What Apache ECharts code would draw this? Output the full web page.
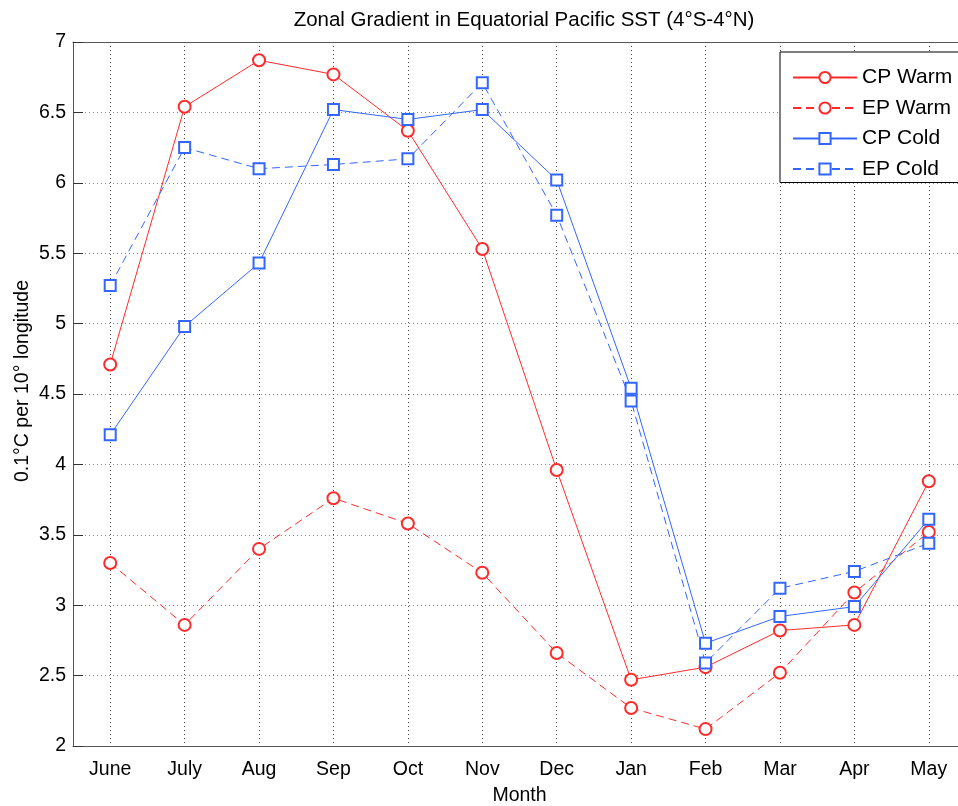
<!DOCTYPE html>
<html>
<head>
<meta charset="utf-8">
<script src="https://cdn.jsdelivr.net/npm/echarts@6/dist/echarts.min.js"></script>
<style>
  html, body { margin: 0; padding: 0; background: #fff; }
  #chart { width: 958px; height: 806px; }
</style>
</head>
<body>
<div id="chart"></div>
<script>
// 月份
const months = ['June', 'July', 'Aug', 'Sep', 'Oct', 'Nov', 'Dec', 'Jan', 'Feb', 'Mar', 'Apr', 'May']

// 各序列数值 (0.1°C per 10° longitude)
const cpWarm = [4.71, 6.54, 6.87, 6.77, 6.37, 5.53, 3.96, 2.47, 2.56, 2.82, 2.86, 3.88]
const epWarm = [3.30, 2.86, 3.40, 3.76, 3.58, 3.23, 2.66, 2.27, 2.12, 2.52, 3.09, 3.52]
const cpCold = [4.21, 4.98, 5.43, 6.52, 6.45, 6.52, 6.02, 4.54, 2.73, 2.92, 2.99, 3.61]
const epCold = [5.27, 6.25, 6.10, 6.13, 6.17, 6.71, 5.77, 4.45, 2.59, 3.12, 3.24, 3.44]

const RED = '#ff2b2b'
const BLUE = '#3366ff'
const FONT = 'Liberation Sans, Arial, Helvetica, sans-serif'

function makeSeries(name, data, color, dashed, symbol, size) {
  return {
    name,
    type: 'line',
    data,
    symbol,
    symbolSize: size,
    showAllSymbol: true,
    animation: false,
    lineStyle: { color, width: 1, type: dashed ? [8, 5] : 'solid' },
    itemStyle: { color, borderColor: color, borderWidth: 0.9 }
  }
}

const myChart = echarts.init(document.getElementById('chart'))
myChart.setOption({
  animation: false,
  textStyle: { fontFamily: FONT },
  title: {
    text: 'Zonal Gradient in Equatorial Pacific SST (4°S-4°N)',
    left: 519, top: 5, textAlign: 'center',
    textStyle: { fontSize: 20.5, fontWeight: 'normal', color: '#000', fontFamily: FONT }
  },
  grid: { left: 73, top: 42, right: -8, bottom: 60, outerBoundsMode: 'none' },
  legend: {
    orient: 'vertical',
    left: 780, top: 52,
    padding: [15, 30, 3, 12],
    itemWidth: 64, itemHeight: 14, itemGap: 9.5,
    borderColor: '#000', borderWidth: 1,
    backgroundColor: '#fff',
    textStyle: { fontSize: 21, color: '#000', lineHeight: 20, fontFamily: FONT },
    data: ['CP Warm', 'EP Warm', 'CP Cold', 'EP Cold']
  },
  xAxis: [{
    type: 'category',
    data: months,
    name: 'Month',
    nameLocation: 'middle',
    nameGap: 40,
    nameTextStyle: { fontSize: 19.5, color: '#000' },
    axisLine: { lineStyle: { color: '#555' } },
    axisTick: { inside: true, length: 10, alignWithLabel: true, interval: 0, lineStyle: { color: '#333' } },
    axisLabel: { fontSize: 19.5, color: '#000', margin: 14, interval: 0 },
    splitLine: { show: true, alignWithLabel: true, interval: 0, lineStyle: { color: '#444', type: [1, 3] } }
  }, {
    type: 'category',
    data: months,
    position: 'top',
    axisLine: { lineStyle: { color: '#555' } },
    axisTick: { inside: true, length: 10, alignWithLabel: true, interval: 0, lineStyle: { color: '#333' } },
    axisLabel: { show: false },
    splitLine: { show: false }
  }],
  yAxis: {
    type: 'value',
    min: 2, max: 7, interval: 0.5,
    name: '0.1°C per 10° longitude',
    nameLocation: 'middle',
    nameGap: 40,
    nameMoveOverlap: false,
    nameTextStyle: { fontSize: 19.5, color: '#000', padding: [0, 0, 0, 26] },
    axisLine: { show: true, lineStyle: { color: '#555' } },
    axisTick: { show: true, inside: true, length: 10, lineStyle: { color: '#333' } },
    axisLabel: { fontSize: 19.5, color: '#000', margin: 7 },
    splitLine: { show: true, lineStyle: { color: '#888', type: [1, 3] } }
  },
  series: [
    makeSeries('CP Warm', cpWarm, RED, false, 'emptyCircle', 12),
    makeSeries('EP Warm', epWarm, RED, true, 'emptyCircle', 12),
    makeSeries('CP Cold', cpCold, BLUE, false, 'emptyRect', 11),
    makeSeries('EP Cold', epCold, BLUE, true, 'emptyRect', 11)
  ]
})
</script>
</body>
</html>
